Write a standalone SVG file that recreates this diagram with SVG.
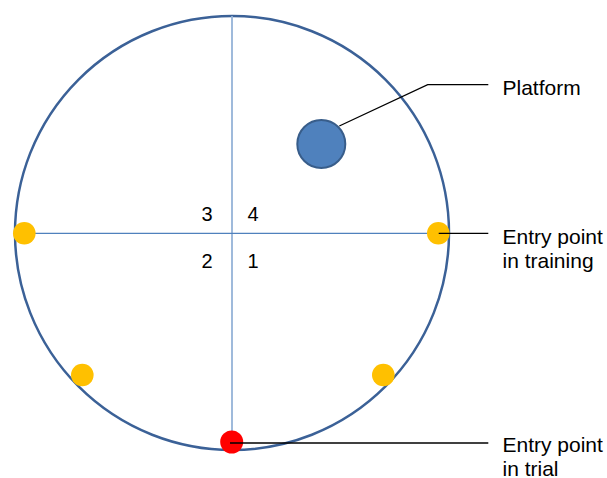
<svg xmlns="http://www.w3.org/2000/svg" width="607" height="478" viewBox="0 0 607 478">
<style>
.lbl{font-family:"Liberation Sans",Arial,sans-serif;font-size:21px;fill:#000}
.num{font-family:"Liberation Sans",Arial,sans-serif;font-size:20px;fill:#000;text-anchor:middle}
.entry{fill:#ffc000}
.leader{stroke:#000;stroke-width:1.3;fill:none}
</style>
<rect width="607" height="478" fill="#fff"/>
<g id="pool">
<circle cx="232" cy="233" r="217" fill="none" stroke="#3b6197" stroke-width="2.5"/>
<line x1="232" y1="16" x2="232" y2="442" stroke="#95b3d7" stroke-width="1.8"/>
<line x1="24" y1="233.3" x2="438" y2="233.3" stroke="#4f81bd" stroke-width="1.2"/>
</g>
<g id="quadrants">
<text class="num" x="207" y="221">3</text>
<text class="num" x="253" y="221">4</text>
<text class="num" x="207" y="268">2</text>
<text class="num" x="253" y="268">1</text>
</g>
<g id="platform">
<circle cx="321.3" cy="144" r="24" fill="#4f81bd" stroke="#385d8a" stroke-width="2"/>
</g>
<g id="entry-left"><circle class="entry" cx="24.3" cy="233.3" r="11.3"/></g>
<g id="entry-right"><circle class="entry" cx="438.3" cy="233.3" r="11.3"/></g>
<g id="entry-bl"><circle class="entry" cx="82.3" cy="375" r="11.3"/></g>
<g id="entry-br"><circle class="entry" cx="383.3" cy="375" r="11.3"/></g>
<g id="entry-trial"><circle cx="231.7" cy="442" r="11.5" fill="#ff0000"/></g>
<g id="connectors">
<polyline class="leader" points="339.3,126 427.7,84.7 488.3,84.7"/>
<line class="leader" x1="438.7" y1="233.3" x2="488.3" y2="233.3" stroke="#333"/>
<line class="leader" x1="230" y1="443" x2="488.3" y2="443"/>
</g>
<g id="labels">
<text class="lbl" x="502.5" y="95">Platform</text>
<text class="lbl" x="502.5" y="243.5">Entry point</text>
<text class="lbl" x="502.5" y="267.5">in training</text>
<text class="lbl" x="502.5" y="452">Entry point</text>
<text class="lbl" x="502.5" y="475.5">in trial</text>
</g>
</svg>
